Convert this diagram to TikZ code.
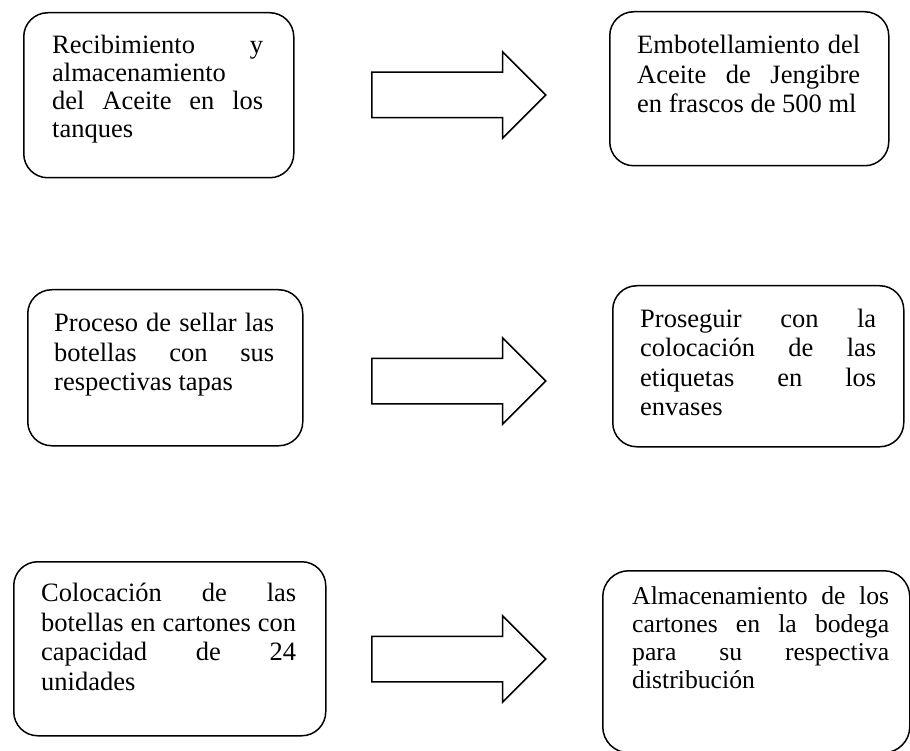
\documentclass[tikz,border=0pt]{standalone}
\usepackage{fontspec}
\setmainfont{Liberation Serif}
\usetikzlibrary{positioning, shapes.arrows}
\hyphenpenalty=10000
\tolerance=10000

\tikzset{
  caja/.style={draw, line width=1.5pt, rounded corners=24pt, anchor=north west, inner sep=0pt},
  texto/.style={inner sep=0pt, text width=#1, align=justify,
    font=\fontsize{26.5pt}{29.5pt}\selectfont},
  flecha/.style={draw, line width=1.5pt, single arrow, single arrow head extend=20.5pt,
    minimum height=174pt, inner xsep=0pt, inner ysep=22pt, anchor=tail}
}

\begin{document}
\begin{tikzpicture}[x=1pt, y=-1pt]
\useasboundingbox (0,0) rectangle (910,751);

% cajas
\node[caja, minimum width=270pt, minimum height=165pt] (caja1) at (23,12) {};
\node[caja, minimum width=279pt, minimum height=154pt] (caja2) at (609,11) {};
\node[caja, minimum width=275pt, minimum height=156pt] (caja3) at (27,289) {};
\node[caja, minimum width=291pt, minimum height=161pt] (caja4) at (612,285) {};
\node[caja, minimum width=312pt, minimum height=174pt] (caja5) at (13,561) {};
\node[caja, rounded corners=26pt, minimum width=307pt, minimum height=182pt] (caja6) at (602,570) {};

% textos
\node[texto=211pt, font=\fontsize{26.5pt}{28pt}\selectfont, below right=23pt and 29pt of caja1.north west] (txt1)
  {Recibimiento y\linebreak almacenamiento\linebreak del Aceite en los\linebreak tanques};
\node[texto=223pt, below right=24pt and 28pt of caja2.north west] (txt2)
  {Embotellamiento del\linebreak Aceite de Jengibre\linebreak en frascos de 500 ml};
\node[texto=220pt, below right=24pt and 27pt of caja3.north west] (txt3)
  {Proceso de sellar las\linebreak botellas con sus\linebreak respectivas tapas};
\node[texto=236pt, below right=23.5pt and 28pt of caja4.north west] (txt4)
  {Proseguir con la\linebreak colocación de las\linebreak etiquetas en los\linebreak envases};
\node[texto=255pt, below right=22pt and 28pt of caja5.north west] (txt5)
  {Colocación de las\linebreak botellas en cartones con\linebreak capacidad de 24\linebreak unidades};
\node[texto=257pt, font=\fontsize{25.7pt}{28pt}\selectfont, below right=16.5pt and 30pt of caja6.north west] (txt6)
  {Almacenamiento de los\linebreak cartones en la bodega\linebreak para su respectiva\linebreak distribución};

% flechas
\node[flecha] (flecha1) at (371,95) {};
\node[flecha] (flecha2) at (371,381) {};
\node[flecha] (flecha3) at (371,659) {};
\end{tikzpicture}
\end{document}
